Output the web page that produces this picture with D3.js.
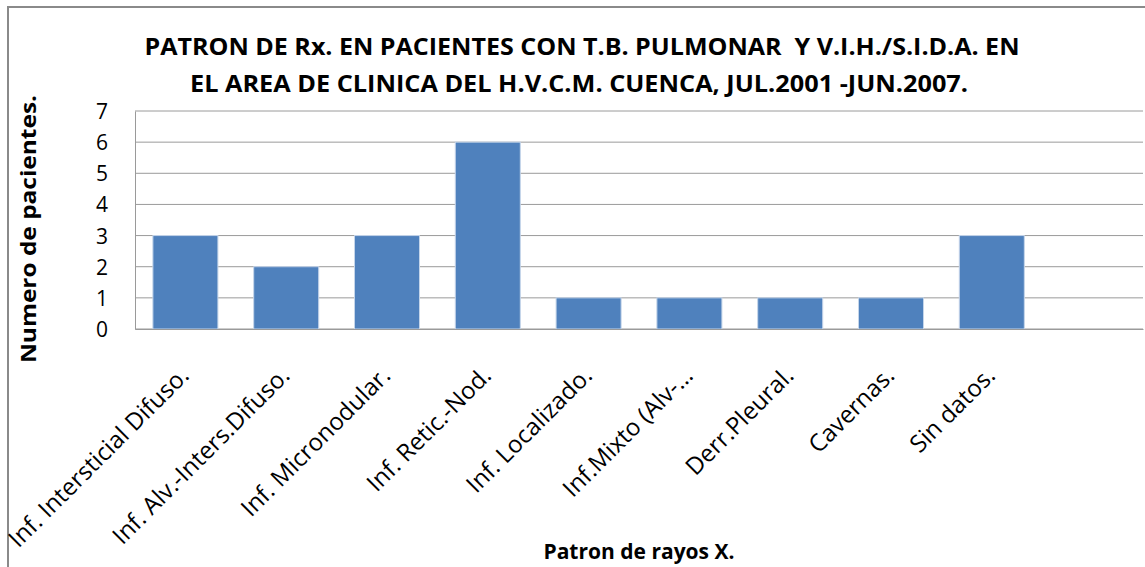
<!DOCTYPE html>
<html lang="en">
<head>
  <meta charset="utf-8">
  <title>Patron de Rx.</title>
  <script src="https://d3js.org/d3.v7.min.js"></script>
  <style>
    body { margin: 0; background: #fff; }
    svg text { font-family: "Open Sans", "Noto Sans", sans-serif; fill: #000; white-space: pre; }
  </style>
</head>
<body>
<svg id="chart" width="1145" height="567"></svg>

<script>
// data
var categories = ["Inf. Intersticial Difuso.", "Inf. Alv.-Inters.Difuso.", "Inf. Micronodular.",
  "Inf. Retic.-Nod.", "Inf. Localizado.", "Inf.Mixto (Alv-\u2026", "Derr.Pleural.",
  "Cavernas.", "Sin datos.", " "];
var values = [3, 2, 3, 6, 1, 1, 1, 1, 3, null];
var yTicks = [0, 1, 2, 3, 4, 5, 6, 7];
var titleLines = ["PATRON DE Rx. EN PACIENTES CON T.B. PULMONAR  Y V.I.H./S.I.D.A. EN",
  "EL AREA DE CLINICA DEL H.V.C.M. CUENCA, JUL.2001 -JUN.2007."];
var titleWidths = [875, 778];
var yTitle = "Numero de pacientes.";
var xTitle = "Patron de rayos X.";

var svg = d3.select("#chart");
var plot = {left: 135, right: 1143, top: 111, bottom: 329};

// outer chart frame
svg.append("rect")
  .attr("x", 8).attr("y", 7)
  .attr("width", 1150).attr("height", 580)
  .attr("fill", "none")
  .attr("stroke", "#8a8a8a")
  .attr("stroke-width", 2);

var x = d3.scaleBand()
  .domain(categories)
  .range([plot.left, plot.right])
  .paddingInner(0.355)
  .paddingOuter(0.1775);

var y = d3.scaleLinear()
  .domain([0, 7])
  .range([plot.bottom, plot.top]);

// gridlines
svg.append("g")
  .selectAll("line")
  .data(yTicks)
  .enter()
  .append("line")
  .attr("x1", plot.left).attr("x2", plot.right)
  .attr("y1", function(d) { return y(d); })
  .attr("y2", function(d) { return y(d); })
  .attr("stroke", "#9a9a9a")
  .attr("stroke-width", 1);

// bars
svg.append("g")
  .selectAll("rect")
  .data(values.map(function(v, i) { return {cat: categories[i], v: v}; }).filter(function(d) { return d.v != null; }))
  .enter()
  .append("rect")
  .attr("x", function(d) { return x(d.cat); })
  .attr("width", x.bandwidth())
  .attr("y", function(d) { return y(d.v); })
  .attr("height", function(d) { return y(0) - y(d.v); })
  .attr("fill", "#4f81bd")
  .attr("stroke", "#c5d5ea")
  .attr("stroke-width", 1);

// y axis
var yAxis = svg.append("g")
  .attr("transform", "translate(" + plot.left + ",0)")
  .call(d3.axisLeft(y).tickValues(yTicks).tickSize(0).tickPadding(27).tickFormat(d3.format("d")));
yAxis.select(".domain").attr("stroke", "#9a9a9a");
yAxis.selectAll("text")
  .style("font-size", "21px")
  .attr("dy", "0.36em");

// x axis
var xAxis = svg.append("g")
  .attr("transform", "translate(0," + plot.bottom + ")")
  .call(d3.axisBottom(x).tickSize(0).tickPadding(0));
xAxis.select(".domain").attr("stroke", "#9a9a9a");
xAxis.selectAll("text")
  .style("font-size", "24px")
  .attr("text-anchor", "end")
  .attr("dy", 0)
  .attr("y", 0)
  .attr("transform", "translate(5,48) rotate(-45)");

// title
svg.append("g")
  .selectAll("text")
  .data(titleLines)
  .enter()
  .append("text")
  .attr("x", function(d, i) { return i === 0 ? 582 : 579; })
  .attr("y", function(d, i) { return 55 + i * 37; })
  .attr("text-anchor", "middle")
  .attr("textLength", function(d, i) { return titleWidths[i]; })
  .attr("lengthAdjust", "spacingAndGlyphs")
  .style("font-size", "23px")
  .style("font-weight", "bold")
  .text(function(d) { return d; });

// axis titles
svg.append("text")
  .attr("transform", "translate(36,229) rotate(-90)")
  .attr("text-anchor", "middle")
  .attr("textLength", 268)
  .attr("lengthAdjust", "spacingAndGlyphs")
  .style("font-size", "22px")
  .style("font-weight", "bold")
  .text(yTitle);

svg.append("text")
  .attr("x", (plot.left + plot.right) / 2)
  .attr("y", 559)
  .attr("text-anchor", "middle")
  .style("font-size", "21px")
  .style("font-weight", "bold")
  .text(xTitle);
</script>
</body>
</html>
